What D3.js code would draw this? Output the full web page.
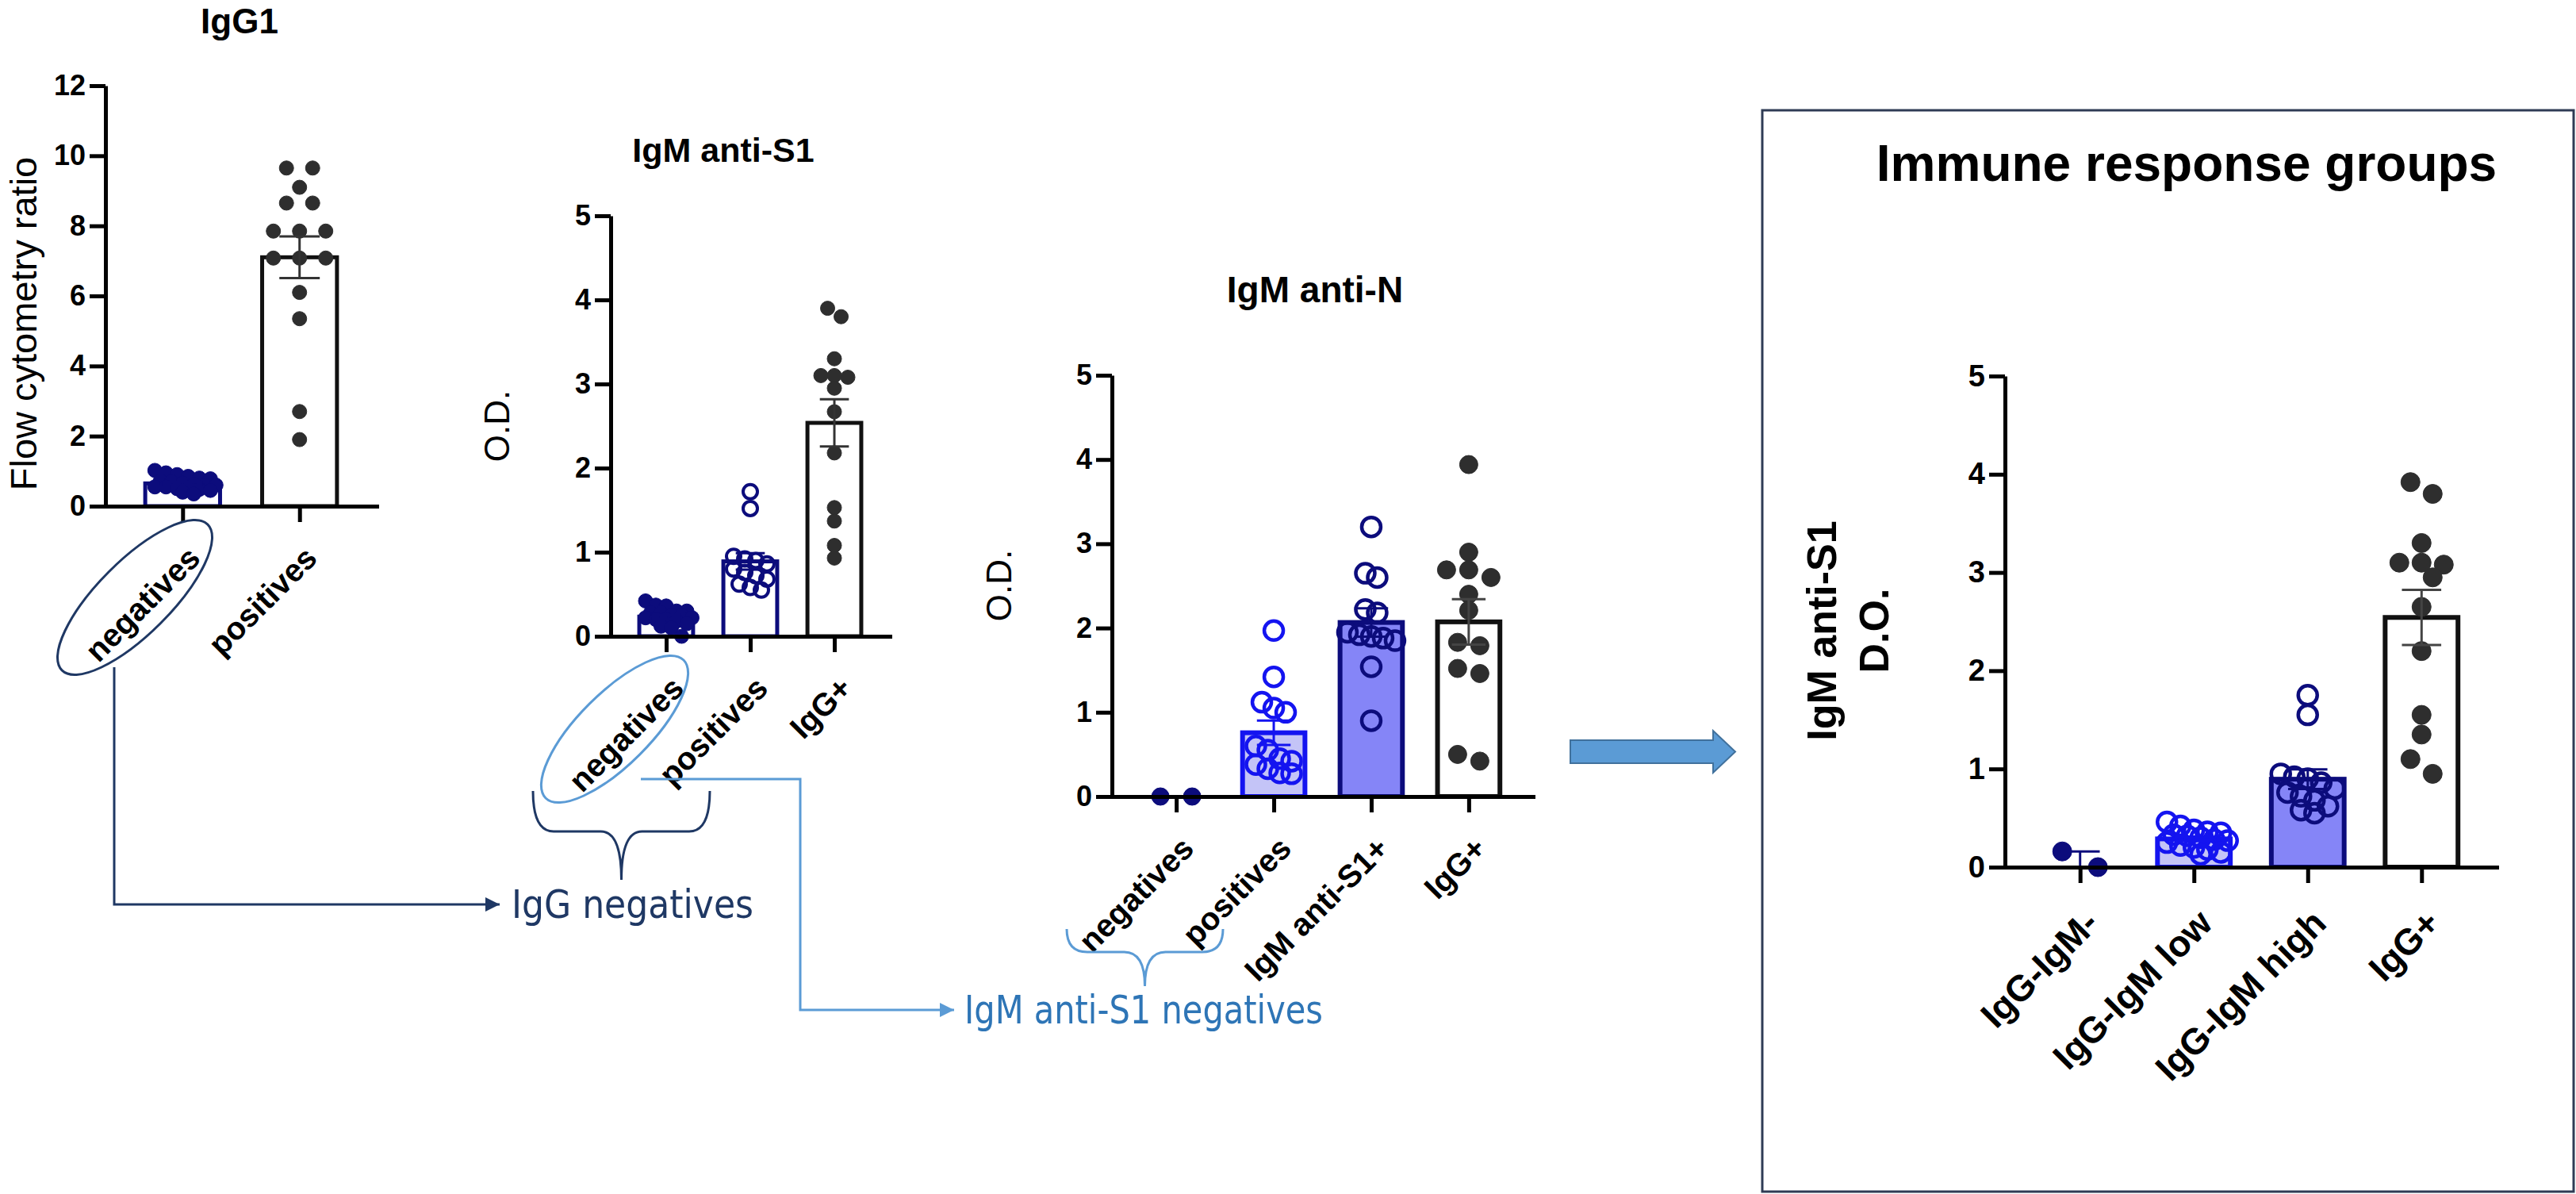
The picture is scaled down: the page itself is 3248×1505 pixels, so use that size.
<!DOCTYPE html>
<html><head><meta charset="utf-8">
<script src="https://cdn.jsdelivr.net/npm/d3@7"></script>
<style>html,body{margin:0;padding:0;background:#fff;}svg{display:block;}</style>
</head><body>
<svg id="c" width="3248" height="1505"></svg>
<script>
// ---------------- DATA ----------------
const igg1Categories = ["negatives", "positives"];
const igg1Negatives = [0.72,0.78,0.62,0.5,0.85,0.66,0.55,0.9,1.02,0.95,0.8,0.6,0.48,0.45,0.7,0.55,0.4,0.35,0.6,0.5];
const igg1Positives = [9.65,9.65,9.1,8.65,8.65,7.85,7.85,7.85,7.08,7.08,7.08,6.1,5.35,2.7,1.9];
const igg1Ticks = [0,2,4,6,8,10,12];

const s1Categories = ["negatives", "positives", "IgG+"];
const s1Negatives = [0.42,0.36,0.37,0.30,0.28,0.25,0.22,0.2,0.18,0.25,0.3,0.15,0.12,0.2,0.28,0.0,0.22,0.1];
const s1Positives = [1.72,1.52,0.95,0.92,0.9,0.86,0.8,0.76,0.72,0.68,0.62,0.58,0.55];
const s1IgGpos = [3.9,3.8,3.3,3.1,3.1,3.08,2.95,2.67,2.18,1.53,1.37,1.08,0.93];
const odTicks = [0,1,2,3,4,5];

const nCategories = ["negatives", "positives", "IgM anti-S1+", "IgG+"];
const nNegatives = [0.0, 0.0];
const nPositives = [1.97,1.42,1.12,1.05,1.0,0.6,0.55,0.45,0.42,0.38,0.33,0.28,0.27];
const nS1pos = [3.2,2.65,2.6,2.22,2.18,1.95,1.92,1.9,1.88,1.85,1.54,0.9];
const nIgGpos = [3.94,2.9,2.69,2.69,2.6,2.4,2.21,1.83,1.79,1.52,1.46,0.5,0.42];

const groupCategories = ["IgG-IgM-", "IgG-IgM low", "IgG-IgM high", "IgG+"];
const grpNeg = [0.16, 0.0];
const grpLow = [0.46,0.42,0.38,0.36,0.35,0.33,0.32,0.3,0.28,0.27,0.25,0.22,0.2,0.18,0.15,0.13];
const grpHigh = [1.75,1.55,0.95,0.92,0.9,0.86,0.8,0.76,0.72,0.68,0.62,0.58,0.55];
const grpIgG = [3.92,3.8,3.3,3.1,3.1,3.08,2.95,2.65,2.2,1.55,1.35,1.1,0.95];

const titles = ["IgG1", "IgM anti-S1", "IgM anti-N", "Immune response groups"];
const noteLabels = ["IgG negatives", "IgM anti-S1 negatives"];

// ---------------- STYLE ----------------
const NAVY = "#0c0c7c", BLUE = "#1414f0", LIGHT = "#c4c4f7", MID = "#8585f7", GRAY = "#2e2e2e";
const ANAVY = "#1f3864", ALIGHT = "#5b9bd5", ATEXT = "#2e75b6";
const FONT = "'Liberation Sans', Arial, Helvetica, sans-serif";
const NARROW = "'Liberation Sans Narrow', 'DejaVu Sans Condensed', 'Liberation Sans', sans-serif";

const svg = d3.select("#c");

function swarm(values, y, r, step, maxW) {
  const pts = values.map(v => ({v, py: y(v)})).sort((a, b) => a.py - b.py);
  const maxPer = Math.max(1, Math.floor(maxW / step) + 1);
  const thr = r * 1.75;
  const out = []; let row = []; let rowY = null; let shift = 0;
  const flush = (overflow) => {
    const n = row.length;
    row.forEach((p, i) => { p.dx = (i - (n - 1) / 2) * step + shift; out.push(p); });
    row = [];
    shift = overflow ? (shift === 0 ? step / 2 : 0) : 0;
  };
  for (const p of pts) {
    if (row.length) {
      if (row.length >= maxPer && Math.abs(p.py - rowY) <= thr) flush(true);
      else if (Math.abs(p.py - rowY) > thr) flush(false);
    }
    if (!row.length) rowY = p.py;
    row.push(p);
  }
  if (row.length) flush(false);
  return out;
}

function panel(cfg) {
  const y = d3.scaleLinear().domain([0, cfg.yMax]).range([cfg.y0, cfg.yTop]);
  const x = d3.scalePoint().domain(cfg.cats).range([cfg.axisX, cfg.xEnd]).padding(0.66);
  const bw = x.step() * 0.64;
  const g = svg.append("g");

  cfg.series.forEach((s, i) => {
    const cx = x(cfg.cats[i]);
    const m = d3.mean(s.values);
    const sem = s.values.length > 1 ? d3.deviation(s.values) / Math.sqrt(s.values.length) : 0;
    if (s.bar) {
      g.append("rect").attr("x", cx - bw / 2).attr("y", y(m))
        .attr("width", bw).attr("height", cfg.y0 - y(m))
        .attr("fill", s.bar.fill).attr("stroke", s.bar.stroke).attr("stroke-width", cfg.barStroke);
    }
    const pts = swarm(s.values, y, s.r, s.step, bw * 0.85);
    g.selectAll(null).data(pts).enter().append("circle")
      .attr("cx", d => cx + d.dx).attr("cy", d => d.py).attr("r", s.r)
      .attr("fill", s.open ? "none" : s.color)
      .attr("stroke", s.color).attr("stroke-width", s.open ? s.sw : 1);
    if (sem > 0.001) {
      const cw = bw * 0.27;
      const eg = g.append("g").attr("stroke", s.err).attr("stroke-width", 3).attr("fill", "none");
      eg.append("line").attr("x1", cx).attr("x2", cx).attr("y1", y(m - sem)).attr("y2", y(m + sem));
      eg.append("line").attr("x1", cx - cw).attr("x2", cx + cw).attr("y1", y(m + sem)).attr("y2", y(m + sem));
      eg.append("line").attr("x1", cx - cw).attr("x2", cx + cw).attr("y1", y(m - sem)).attr("y2", y(m - sem));
    }
  });

  const ya = g.append("g").attr("transform", `translate(${cfg.axisX},0)`)
    .call(d3.axisLeft(y).tickValues(cfg.ticks).tickFormat(d3.format("d")).tickSize(20).tickSizeOuter(0).tickPadding(5));
  ya.select(".domain").attr("stroke-width", 5).attr("stroke", "#000");
  ya.selectAll(".tick line").attr("stroke-width", 5).attr("stroke", "#000");
  ya.selectAll(".tick text").attr("font-size", cfg.tickFont).attr("font-weight", "bold")
    .attr("font-family", FONT).attr("fill", "#000");

  const xa = g.append("g").attr("transform", `translate(0,${cfg.y0})`)
    .call(d3.axisBottom(x).tickSize(20).tickSizeOuter(0));
  xa.select(".domain").attr("stroke-width", 5).attr("stroke", "#000").attr("stroke-linecap", "square");
  xa.selectAll(".tick line").attr("stroke-width", 5).attr("stroke", "#000");
  xa.selectAll(".tick text").attr("y", null).attr("dy", "0.35em")
    .attr("transform", `translate(${cfg.labDx},${cfg.labDy}) rotate(-45)`)
    .attr("text-anchor", "end").attr("font-size", cfg.labFont).attr("font-weight", "bold")
    .attr("font-family", FONT).attr("fill", "#000");
  g.selectAll(".domain").attr("fill", "none");
  return {x, y};
}

// Panel 1
panel({axisX: 133, y0: 638, yTop: 108, xEnd: 475, yMax: 12, ticks: igg1Ticks, cats: igg1Categories,
  tickFont: 36, labFont: 40, labDx: 14, labDy: 58, barStroke: 5,
  series: [
    {values: igg1Negatives, bar: {fill: "#fff", stroke: NAVY}, color: NAVY, r: 9, step: 14, err: NAVY},
    {values: igg1Positives, bar: {fill: "#fff", stroke: "#111"}, color: GRAY, r: 9, step: 33, err: "#333"}
  ]});

// Panel 2
panel({axisX: 770, y0: 802, yTop: 272, xEnd: 1122, yMax: 5, ticks: odTicks, cats: s1Categories,
  tickFont: 36, labFont: 40, labDx: 14, labDy: 58, barStroke: 5,
  series: [
    {values: s1Negatives, bar: {fill: "#fff", stroke: NAVY}, color: NAVY, r: 9, step: 13, err: NAVY},
    {values: s1Positives, bar: {fill: "#fff", stroke: NAVY}, color: NAVY, r: 9, step: 14, open: true, sw: 4, err: NAVY},
    {values: s1IgGpos, bar: {fill: "#fff", stroke: "#111"}, color: GRAY, r: 9, step: 17, err: "#333"}
  ]});

// Panel 3
panel({axisX: 1402, y0: 1004, yTop: 473, xEnd: 1933, yMax: 5, ticks: odTicks, cats: nCategories,
  tickFont: 36, labFont: 40, labDx: 14, labDy: 58, barStroke: 6,
  series: [
    {values: nNegatives, bar: null, color: NAVY, r: 11, step: 40, err: NAVY},
    {values: nPositives, bar: {fill: LIGHT, stroke: BLUE}, color: BLUE, r: 12, step: 15, open: true, sw: 4.5, err: BLUE},
    {values: nS1pos, bar: {fill: MID, stroke: NAVY}, color: NAVY, r: 12, step: 15, open: true, sw: 4.5, err: NAVY},
    {values: nIgGpos, bar: {fill: "#fff", stroke: "#111"}, color: GRAY, r: 11.5, step: 28, err: "#444"}
  ]});

// Panel 4 frame
svg.append("rect").attr("x", 2222).attr("y", 139).attr("width", 1023).attr("height", 1363)
  .attr("fill", "none").attr("stroke", "#2f3b55").attr("stroke-width", 3);

panel({axisX: 2528, y0: 1093, yTop: 474, xEnd: 3148, yMax: 5, ticks: odTicks, cats: groupCategories,
  tickFont: 38, labFont: 46, labDx: 14, labDy: 62, barStroke: 6,
  series: [
    {values: grpNeg, bar: null, color: NAVY, r: 12, step: 45, err: NAVY},
    {values: grpLow, bar: {fill: LIGHT, stroke: BLUE}, color: BLUE, r: 12, step: 17, open: true, sw: 4.5, err: BLUE},
    {values: grpHigh, bar: {fill: MID, stroke: NAVY}, color: NAVY, r: 12, step: 17, open: true, sw: 4.5, err: NAVY},
    {values: grpIgG, bar: {fill: "#fff", stroke: "#111"}, color: GRAY, r: 12, step: 28, err: "#444"}
  ]});

// ---------------- TITLES & AXIS TITLES ----------------
const tt = (txt, x, y, size) => svg.append("text").attr("x", x).attr("y", y).text(txt)
  .attr("font-family", FONT).attr("font-weight", "bold").attr("font-size", size)
  .attr("text-anchor", "middle").attr("fill", "#000");
tt(titles[0], 302, 42, 44);
tt(titles[1], 912, 204, 43);
tt(titles[2], 1658, 381, 46);
tt(titles[3], 2757, 228, 64);

const vt = (txt, x, y, size, weight) => svg.append("text")
  .attr("transform", `translate(${x},${y}) rotate(-90)`).text(txt)
  .attr("font-family", FONT).attr("font-weight", weight).attr("font-size", size)
  .attr("text-anchor", "middle").attr("fill", "#000");
vt("Flow cytometry ratio", 46, 408, 47, "normal");
vt("O.D.", 642, 537, 44, "normal");
vt("O.D.", 1275, 738, 44, "normal");
vt("IgM anti-S1", 2315, 795, 52, "bold");
vt("D.O.", 2381, 795, 52, "bold");

// ---------------- ANNOTATIONS ----------------
const defs = svg.append("defs");
[["arrNavy", ANAVY], ["arrLight", ALIGHT]].forEach(([id, col]) => {
  defs.append("marker").attr("id", id).attr("viewBox", "0 0 10 10").attr("refX", 10).attr("refY", 5)
    .attr("markerWidth", 6).attr("markerHeight", 6).attr("markerUnits", "strokeWidth").attr("orient", "auto")
    .append("path").attr("d", "M0,0 L10,5 L0,10 z").attr("fill", col);
});

svg.append("ellipse").attr("cx", 170).attr("cy", 753).attr("rx", 130).attr("ry", 46)
  .attr("transform", "rotate(-45,170,753)").attr("fill", "none").attr("stroke", ANAVY).attr("stroke-width", 3);
svg.append("ellipse").attr("cx", 775).attr("cy", 919).attr("rx", 123).attr("ry", 45)
  .attr("transform", "rotate(-45,775,919)").attr("fill", "none").attr("stroke", ALIGHT).attr("stroke-width", 3);

svg.append("path").attr("d", "M144,841 V1140 H630").attr("fill", "none")
  .attr("stroke", ANAVY).attr("stroke-width", 3).attr("marker-end", "url(#arrNavy)");
svg.append("path").attr("d", "M808,982 H1009 V1273 H1203").attr("fill", "none")
  .attr("stroke", ALIGHT).attr("stroke-width", 3).attr("marker-end", "url(#arrLight)");

function brace(x1, x2, yTop, yMid, yTip, col) {
  const cx = (x1 + x2) / 2, r = 26;
  svg.append("path").attr("d",
    `M${x1},${yTop} Q${x1},${yMid} ${x1 + r},${yMid} L${cx - r},${yMid} Q${cx},${yMid} ${cx},${yTip}` +
    ` M${cx},${yTip} Q${cx},${yMid} ${cx + r},${yMid} L${x2 - r},${yMid} Q${x2},${yMid} ${x2},${yTop}`)
    .attr("fill", "none").attr("stroke", col).attr("stroke-width", 3);
}
brace(672, 895, 997, 1048, 1109, ANAVY);
brace(1345, 1542, 1171, 1200, 1243, ALIGHT);

svg.append("text").attr("x", 645).attr("y", 1140).attr("dominant-baseline", "central").text(noteLabels[0])
  .attr("font-family", NARROW).attr("font-size", 50).attr("fill", ANAVY)
  .attr("textLength", 305).attr("lengthAdjust", "spacingAndGlyphs");
svg.append("text").attr("x", 1216).attr("y", 1273).attr("dominant-baseline", "central").text(noteLabels[1])
  .attr("font-family", NARROW).attr("font-size", 50).attr("fill", ATEXT)
  .attr("textLength", 452).attr("lengthAdjust", "spacingAndGlyphs");

svg.append("path").attr("d", "M1980,933 H2160 V921 L2188,947.5 L2160,974 V962 H1980 Z")
  .attr("fill", "#5b9bd5").attr("stroke", "#41719c").attr("stroke-width", 2);
</script>
</body></html>
